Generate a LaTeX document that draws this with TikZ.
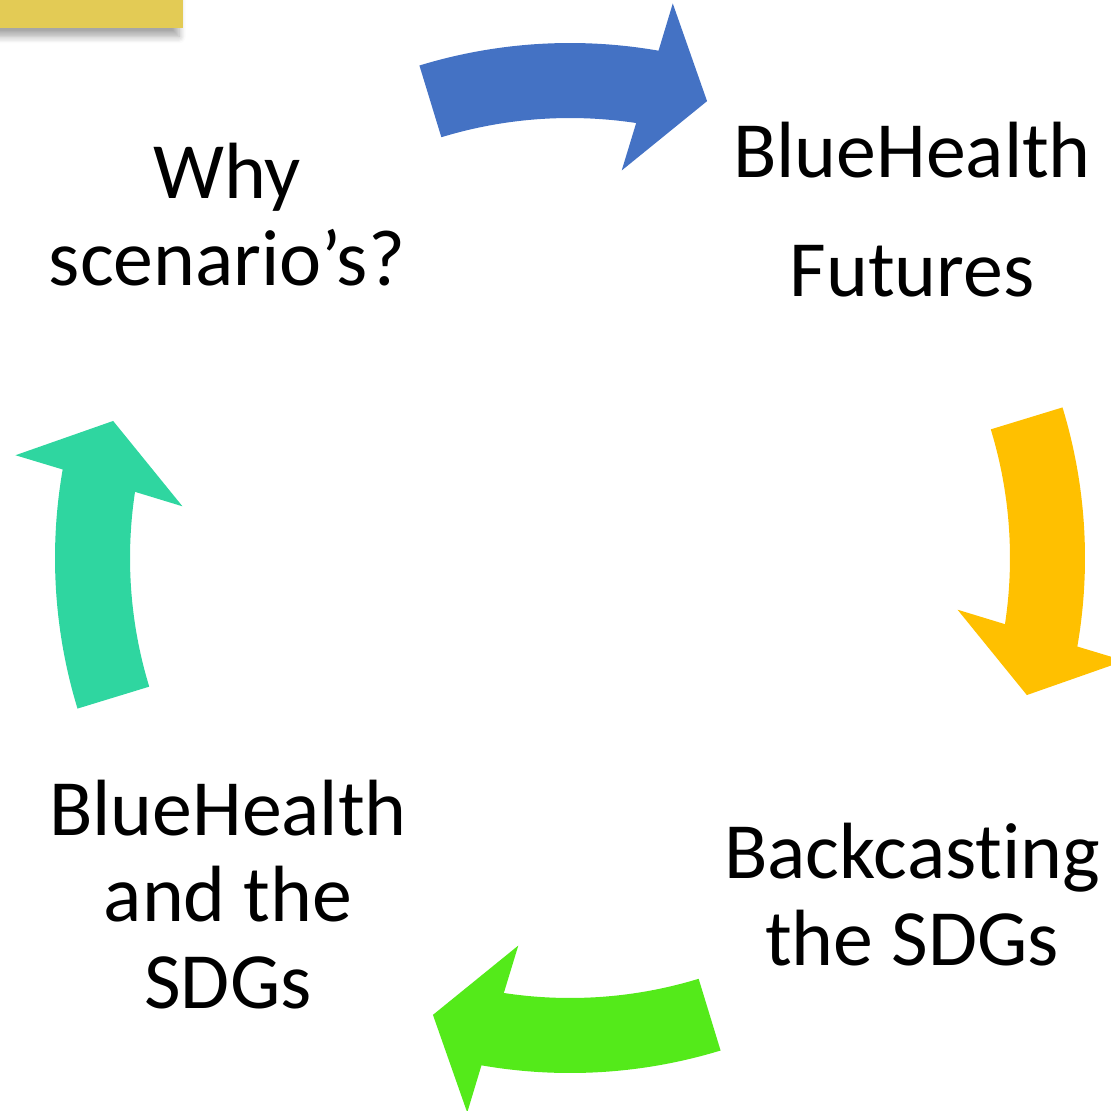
\documentclass[tikz,border=0pt]{standalone}
\usepackage{fontspec}
\setmainfont[Ligatures={NoCommon,NoContextual,NoRequired}]{Carlito}
\usepackage{xcolor}
\usetikzlibrary{shadows.blur}
\definecolor{tabyellow}{RGB}{227,203,85}
\definecolor{cycblue}{RGB}{68,114,196}
\definecolor{cycyellow}{RGB}{255,192,0}
\definecolor{cycgreen}{RGB}{84,234,26}
\definecolor{cycteal}{RGB}{47,214,160}
\newcommand\rout{5.15}
\newcommand\rin{4.40}

\begin{document}
\begin{tikzpicture}[
    label/.style={align=center,inner sep=0,anchor=base,font=\fontsize{22.7}{24.6}\selectfont},
    tab/.style={fill=tabyellow,blur shadow={shadow xshift=-0.4mm,shadow yshift=-0.9mm,shadow blur steps=6,shadow opacity=35}}
  ]
    \useasboundingbox (0,0) rectangle (11.10,-11.11);

    \fill[tab] (-0.5,0.5) rectangle (1.83,-0.275);

    \foreach \rot/\col in {0/cycblue,-90/cycyellow,180/cycgreen,90/cycteal}{
      \begin{scope}[shift={(5.70,-5.58)},rotate=\rot]
        \fill[\col] (107:\rout) arc[start angle=107,end angle=80.1,radius=\rout]
          -- (79.5:5.64) -- (73.3:4.77) -- (82.4:3.91) -- (81.35:\rin)
          arc[start angle=81.35,end angle=107,radius=\rin] -- cycle;
      \end{scope}
    }

    \node[label] (why) at (2.27,-2.85) {Why\\scenario’s?};
    \node[label,font=\fontsize{22.7}{33.6}\selectfont] (futures) at (9.12,-2.96) {BlueHealth\\Futures};
    \node[label] (backcast) at (9.12,-9.65) {Backcasting\\the SDGs};
    \node[label] (sdgs) at (2.28,-10.08) {BlueHealth\\and the\\SDGs};

  \end{tikzpicture}
\end{document}
